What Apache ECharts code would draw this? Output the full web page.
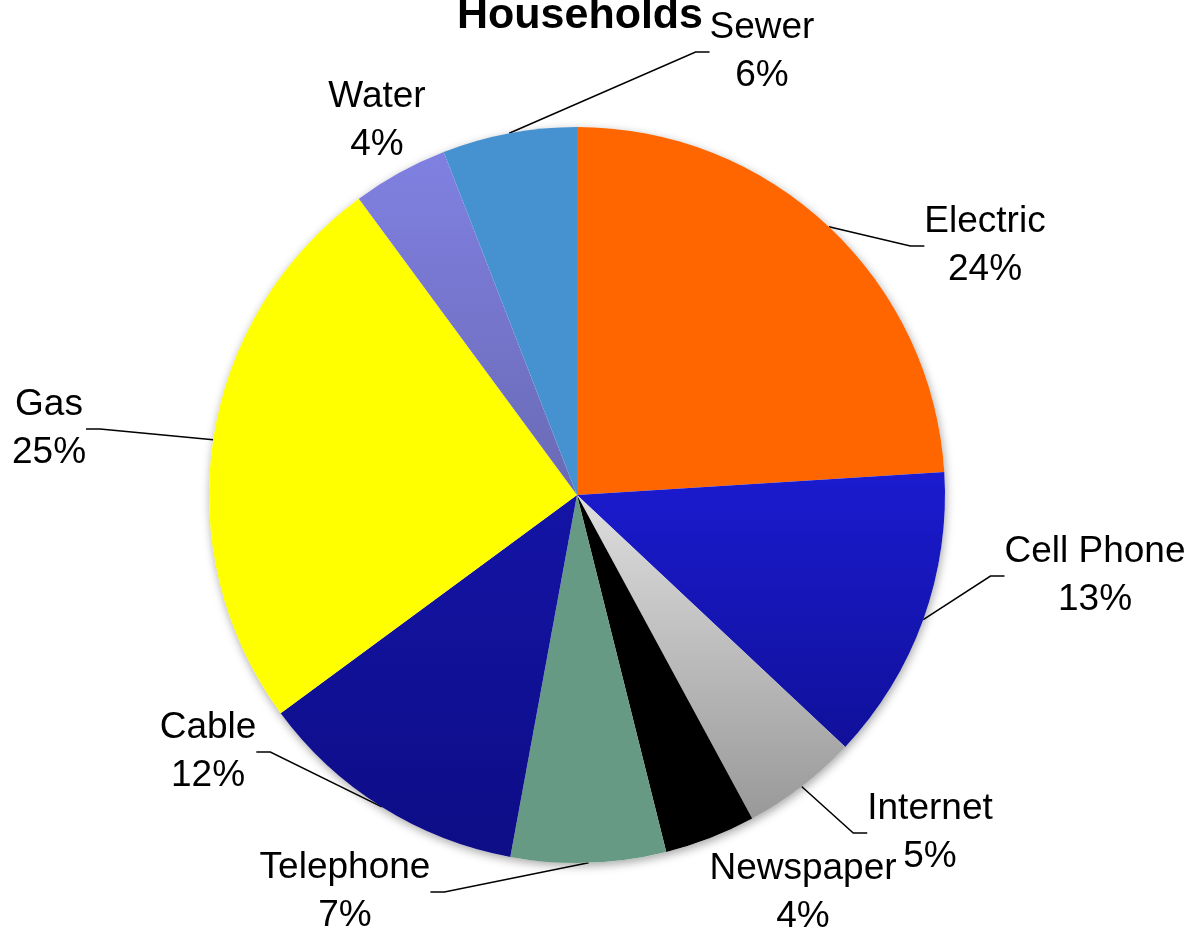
<!DOCTYPE html>
<html>
<head>
<meta charset="utf-8">
<script src="https://cdn.jsdelivr.net/npm/echarts@6/dist/echarts.min.js"></script>
<style>
html,body{margin:0;padding:0;background:#fff;}
#main{width:1192px;height:933px;}
</style>
</head>
<body>
<div id="main"></div>
<script>
// ---- data ----
const categories = ['Electric','Cell Phone','Internet','Newspaper','Telephone','Cable','Gas','Water','Sewer'];
const values = [24.0, 13.0, 5.1, 4.0, 6.8, 12.0, 25.0, 4.2, 5.9];
const titleText = 'Households';

// ---- styles ----
const FONT = '"Liberation Sans",Arial,sans-serif';
function vgrad(a, b){
  return new echarts.graphic.LinearGradient(0,0,0,1,[{offset:0,color:a},{offset:1,color:b}]);
}
const fills = [
  '#FF6600',
  vgrad('#1B1BD0','#10109A'),
  vgrad('#DEDEDE','#999999'),
  '#000000',
  '#679A84',
  vgrad('#1414A6','#0D0D86'),
  '#FFFF00',
  vgrad('#8080E2','#6A6AB5'),
  '#4691D0'
];
const showLine = [true,true,true,false,true,true,true,false,true];
// label centre positions (layout styling)
const labelPos = [
  [985,246],[1095,576],[930,833],[803,893],[345,892],[208,752],[49,429],[377,121],[762,52]
];

const chart = echarts.init(document.getElementById('main'), null, {renderer:'canvas'});
chart.setOption({
  backgroundColor:'#ffffff',
  animation:false,
  title:{
    text:titleText, left:575, textAlign:'center', top:-10,
    textStyle:{fontFamily:FONT,fontWeight:'bold',fontSize:43,color:'#000'}
  },
  series:[{
    type:'pie',
    silent:true,
    z:1,
    center:[577,495],
    radius:368,
    data:[{value:1,name:'_shadow'}],
    itemStyle:{color:'#ffffff',shadowBlur:10,shadowColor:'rgba(0,0,0,0.35)',shadowOffsetX:1,shadowOffsetY:3},
    label:{show:false},labelLine:{show:false}
  },{
    type:'pie',
    z:2,
    center:[577,495],
    radius:368,
    startAngle:90,
    clockwise:true,
    percentPrecision:0,
    avoidLabelOverlap:false,
    data:categories.map((c,i)=>({
      name:c, value:values[i],
      itemStyle:{color:fills[i]},
      labelLine:{show:showLine[i]}
    })),
    itemStyle:{borderWidth:0},
    label:{
      show:true, position:'outside',
      formatter:'{b}\n{d}%',
      fontFamily:FONT, fontSize:37, lineHeight:48, color:'#000', align:'center'
    },
    labelLine:{show:true, length:20, length2:14, lineStyle:{color:'#000',width:1.5}},
    labelLayout:function(p){
      const pos = labelPos[p.dataIndex];
      return {x:pos[0], y:pos[1], align:'center', verticalAlign:'middle'};
    }
  }]
});
</script>
</body>
</html>
